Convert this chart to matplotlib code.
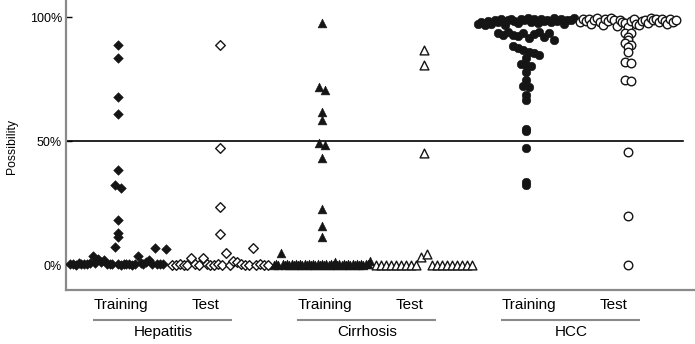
import numpy as np
import matplotlib
matplotlib.use("Agg")
import matplotlib.pyplot as plt
from matplotlib.transforms import blended_transform_factory
from matplotlib.lines import Line2D

# ---------------- data (possibility, %) ----------------
group_names = ["Hepatitis", "Cirrhosis", "HCC"]
subset_names = ["Training", "Test"]
y_ticks = [0, 50, 100]
y_tick_labels = ["0%", "50%", "100%"]

hep_train = [0.4, 0.6, 0.3, 0.8, 0.5, 0.4, 0.7, 1.0, 4.0, 0.8, 2.4, 1.2, 2.2, 0.6,
             0.5, 0.4, 7.3, 0.5, 0.3, 0.6, 0.4, 0.5, 0.3, 0.6, 4.0, 0.9, 0.5, 1.2,
             2.0, 0.6, 7.0, 0.5, 0.4, 0.7, 6.7,
             88.7, 83.7, 67.9, 60.9, 38.3, 32.3, 31.4, 18.5, 13.2, 11.4]
hep_test = [0.3, 0.2, 0.4, 0.3, 0.2, 2.8, 0.4, 0.3, 2.8, 0.5, 0.3, 0.2, 0.4, 0.3,
            4.9, 0.3, 1.6, 1.5, 0.4, 0.3, 0.2, 6.9, 0.3, 0.4, 0.2, 0.3,
            88.7, 47.2, 23.4, 12.5]
cir_train = [0.3, 0.5, 0.2, 5.2, 0.4, 0.3, 0.6, 0.2, 0.4, 0.3, 0.5, 0.2, 0.4, 0.3,
             0.6, 0.2, 0.4, 0.3, 0.5, 0.2, 0.4, 0.3, 0.6, 0.2, 0.4, 0.3, 0.5, 0.2,
             1.3, 0.3, 0.5, 0.2, 0.4, 0.3, 0.6, 0.2, 0.4, 0.3, 0.5, 0.2, 0.4, 0.3,
             0.6, 0.4, 1.8,
             97.7, 71.8, 70.9, 61.8, 58.8, 49.2, 48.4, 43.5, 22.9, 15.8, 11.4]
cir_test = [0.2, 0.2, 0.2, 0.2, 0.2, 0.2, 0.2, 0.2, 0.2, 3.6, 4.8, 0.2, 0.2, 0.2,
            0.2, 0.2, 0.2, 0.2, 0.2, 0.2,
            87.0, 80.6, 45.5]
hcc_train = [97.2, 98.0, 96.8, 98.6, 97.5, 99.0, 98.2, 99.4, 97.0, 98.8, 99.5, 98.4,
             97.6, 99.2, 98.9, 99.6, 98.1, 99.3, 97.9, 99.5, 98.7, 99.1, 98.3, 99.6,
             98.5, 99.4, 97.4, 99.0, 98.8, 99.6,
             93.5, 92.8, 94.0, 93.0, 92.5, 93.8, 91.5, 93.2, 94.2, 92.0, 93.6, 91.0,
             88.5, 87.8, 87.0, 86.2, 85.5, 84.8, 83.5, 81.0, 80.6, 80.2,
             77.8, 74.6, 72.2, 71.8, 68.8, 66.5, 55.0, 54.0, 47.2, 33.5, 32.3]
hcc_test = [98.0, 99.2, 98.6, 99.5, 97.4, 98.9, 99.6, 98.2, 97.0, 99.3, 98.5, 99.7,
            98.8, 96.4, 99.1, 98.0, 97.6, 96.2, 98.7, 99.4, 97.2, 96.8, 98.4, 99.0,
            97.8, 99.6, 98.9, 99.3, 98.1, 99.5, 98.6, 97.5, 99.2, 98.3, 99.0,
            93.5, 93.5, 92.0, 90.7, 89.5, 89.0, 88.0, 86.0, 82.2, 81.8,
            74.8, 74.4, 45.6, 19.8, 0.0]

series = [hep_train, hep_test, cir_train, cir_test, hcc_train, hcc_test]
markers = ["D", "D", "^", "^", "o", "o"]
filled = [True, False, True, False, True, False]
sizes = [24, 24, 40, 40, 38, 38]


def swarm_x(values, center, width=0.94, step=0.05, gap=0.9, base_cut=8.0):
    """Prism-like column scatter: near-equal values share a row,
    points in a row are spread side by side (in list order)."""
    v = np.asarray(values, float)
    order = np.argsort(v, kind="stable")
    clusters, cur = [], [order[0]]
    for a, b in zip(order[:-1], order[1:]):
        if v[b] < base_cut or v[b] - v[a] <= gap:
            cur.append(b)
        else:
            clusters.append(cur)
            cur = [b]
    clusters.append(cur)
    x = np.empty(len(v))
    for cl in clusters:
        cl = sorted(cl)
        n = len(cl)
        s = min(step, width / (n - 1)) if n > 1 else 0.0
        x[cl] = center + (np.arange(n) - (n - 1) / 2) * s
    return x


W, H = 6.95, 3.44
fig = plt.figure(figsize=(W, H), dpi=100)
ax = fig.add_axes([66 / 695, 54 / 344, 1 - 66 / 695, 1 - 54 / 344])

ax.axhline(50, xmin=0, xmax=0.981, color="black", lw=1.2, zorder=1)

ink = "#151515"
for i, vals in enumerate(series):
    xs = swarm_x(vals, i)
    if filled[i]:
        ax.scatter(xs, vals, marker=markers[i], s=sizes[i], facecolors=ink,
                   edgecolors=ink, linewidths=0.4, zorder=3)
    else:
        ax.scatter(xs, vals, marker=markers[i], s=sizes[i], facecolors="white",
                   edgecolors=ink, linewidths=1.0, zorder=3)

ax.set_xlim(-0.51, 5.657)
ax.set_ylim(-9.9, 107)
for side in ["top", "right"]:
    ax.spines[side].set_visible(False)
for side in ["left", "bottom"]:
    ax.spines[side].set_color("#8a8a8a")
    ax.spines[side].set_linewidth(1.6)
ax.set_xticks([])
ax.set_yticks(y_ticks)
font = ["Liberation Sans", "DejaVu Sans"]
ax.set_yticklabels(y_tick_labels, fontsize=9, family=font)
ax.tick_params(axis="y", direction="in", length=4, width=1, color="black", pad=3)

fig.text(12 / 695, (344 - 146) / 344, "Possibility", rotation=90, ha="center",
         va="center", fontsize=8.8, family=font)

tr = blended_transform_factory(ax.transData, fig.transFigure)
for g, name in enumerate(group_names):
    c = 2 * g
    ax.text(c + 0.03, (344 - 305) / 344, subset_names[0], transform=tr, ha="center",
            va="center", fontsize=11, family=font)
    ax.text(c + 0.86, (344 - 305) / 344, subset_names[1], transform=tr, ha="center",
            va="center", fontsize=11, family=font)
    fig.add_artist(Line2D([c - 0.24, c + 1.11], [(344 - 320) / 344] * 2, transform=tr,
                          color="#8a8a8a", lw=1.5))
    ax.text(c + 0.44, (344 - 332) / 344, name, transform=tr, ha="center",
            va="center", fontsize=11, family=font)

fig.savefig("out.png", dpi=100)
